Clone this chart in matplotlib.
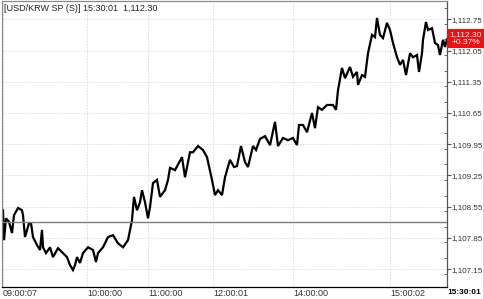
import matplotlib

matplotlib.use("Agg")
import matplotlib.pyplot as plt
from matplotlib.lines import Line2D
from matplotlib.patches import Rectangle
from matplotlib.ticker import FuncFormatter, MultipleLocator

plt.rcParams["font.family"] = ["Liberation Sans", "DejaVu Sans"]

title = "[USD/KRW SP (S)] 15:30:01  1,112.30"
prev_close = 1108.20

# sample index (ticks since open) and traded price
idx = [0, 1, 3, 6, 9, 11, 15, 19, 20, 22, 26, 28, 30, 34, 37, 39, 40, 43,
       47, 50, 55, 60, 64, 67, 70, 72, 74, 77, 80, 85, 90, 93, 95, 100, 105,
       110, 115, 120, 125, 129, 131, 134, 137, 139, 142, 145, 147, 150, 154,
       157, 162, 165, 167, 172, 179, 182, 187, 190, 195, 200, 204, 209, 212,
       215, 219, 222, 227, 231, 234, 238, 242, 245, 250, 253, 257, 262, 267,
       272, 275, 280, 285, 290, 294, 296, 300, 304, 309, 312, 315, 319, 324,
       330, 333, 335, 339, 342, 347, 350, 354, 355, 359, 362, 365, 369, 372,
       374, 377, 380, 384, 387, 390, 394, 397, 400, 403, 407, 410, 414, 416,
       419, 420, 423, 425, 429, 432, 435, 437, 440, 442, 444]
price = [1108.47, 1107.80, 1108.29, 1108.21, 1107.96, 1108.36, 1108.52,
         1108.47, 1108.36, 1107.87, 1108.18, 1108.18, 1107.87, 1107.69,
         1107.58, 1108.03, 1107.64, 1107.51, 1107.64, 1107.42, 1107.62,
         1107.51, 1107.42, 1107.24, 1107.13, 1107.24, 1107.42, 1107.29,
         1107.51, 1107.64, 1107.58, 1107.31, 1107.51, 1107.64, 1107.87,
         1107.91, 1107.73, 1107.64, 1107.80, 1108.25, 1108.77, 1108.47,
         1108.65, 1108.92, 1108.65, 1108.29, 1108.54, 1109.08, 1109.15,
         1108.77, 1108.92, 1109.15, 1109.42, 1109.37, 1109.66, 1109.21,
         1109.77, 1109.77, 1109.91, 1109.82, 1109.66, 1109.15, 1108.81,
         1108.92, 1108.81, 1109.21, 1109.60, 1109.44, 1109.46, 1109.91,
         1109.55, 1109.44, 1109.91, 1109.82, 1110.07, 1110.13, 1109.93,
         1110.45, 1109.91, 1110.09, 1110.04, 1110.09, 1109.93, 1110.38,
         1110.38, 1110.22, 1110.65, 1110.31, 1110.78, 1110.72, 1110.83,
         1110.83, 1110.72, 1111.16, 1111.66, 1111.43, 1111.68, 1111.46,
         1111.57, 1111.28, 1111.50, 1111.46, 1111.99, 1112.40, 1112.35,
         1112.78, 1112.40, 1112.33, 1112.67, 1112.51, 1112.22, 1111.90,
         1111.73, 1111.84, 1111.50, 1111.99, 1111.90, 1111.95, 1111.57,
         1111.99, 1112.29, 1112.69, 1112.51, 1112.55, 1112.22, 1112.17,
         1111.95, 1112.29, 1112.13, 1112.30]

time_pos = [0, 84, 145, 210, 290, 387, 444]
time_labels = ["09:00:07", "10:00:00", "11:00:00", "12:00:01",
               "14:00:00", "15:00:02", "15:30:01"]
price_ticks = [1107.15, 1107.85, 1108.55, 1109.25, 1109.95,
               1110.65, 1111.35, 1112.05, 1112.75]

W, H = 485, 299
fig = plt.figure(figsize=(W / 100, H / 100), dpi=100)
ax = fig.add_axes([2 / W, 12 / H, 445 / W, 286 / H])

ax.plot(idx, price, color="black", linewidth=1.6, solid_joinstyle="miter")
ax.axhline(prev_close, color="#7f7f7f", linewidth=1.0)

ax.set_xlim(-1, 444)
ax.set_ylim(1106.75, 1113.16)

ax.yaxis.tick_right()
ax.set_yticks(price_ticks)
ax.yaxis.set_minor_locator(MultipleLocator(0.35))
ax.yaxis.set_major_formatter(FuncFormatter(lambda v, _: f"{v:,.2f}"))
ax.tick_params(axis="y", which="major", direction="out", length=3, width=0.8,
               color="#555555", labelsize=5.8, labelcolor="#333333", pad=0.5)
ax.tick_params(axis="y", which="minor", direction="in", length=2, width=0.6,
               color="#555555")

ax.set_xticks(time_pos)
ax.set_xticklabels(time_labels)
ax.tick_params(axis="x", length=0, labelsize=6.5, labelcolor="#333333", pad=1.5)
for lab in ax.get_xticklabels():
    lab.set_ha("left")
ax.get_xticklabels()[-1].set_fontweight("bold")
ax.get_xticklabels()[-1].set_fontsize(6)
ax.get_xticklabels()[-1].set_color("black")

ax.grid(True, color="#d0d0d0", linestyle=(0, (1.5, 2)), linewidth=0.6)
ax.set_axisbelow(True)

ax.spines["left"].set_color("#8a8a8a")
ax.spines["top"].set_color("#8a8a8a")
ax.spines["bottom"].set_color("black")
ax.spines["right"].set_color("#555555")
for s in ax.spines.values():
    s.set_linewidth(0.9)

ax.text(0.005, 0.99, title, transform=ax.transAxes, ha="left", va="top",
        fontsize=6.5, color="#222222")

# last price tag
last = price[-1]
pct = (last / prev_close - 1) * 100
fig.patches.append(Rectangle((447 / W, 1 - 48 / H), 37 / W, 19 / H,
                             transform=fig.transFigure, facecolor="#ee1111",
                             edgecolor="none", zorder=5))
fig.text(465.5 / W, 1 - 38.5 / H, f"{last:,.2f}\n{pct:+.2f}%", ha="center",
         va="center", fontsize=6, color="white", linespacing=1.0, zorder=6)

# outer frame on the right edge
fig.lines.append(Line2D([484.3 / W, 484.3 / W], [0, 1],
                        transform=fig.transFigure, color="#333333",
                        linewidth=1.0))

fig.savefig("out.png", dpi=100)
